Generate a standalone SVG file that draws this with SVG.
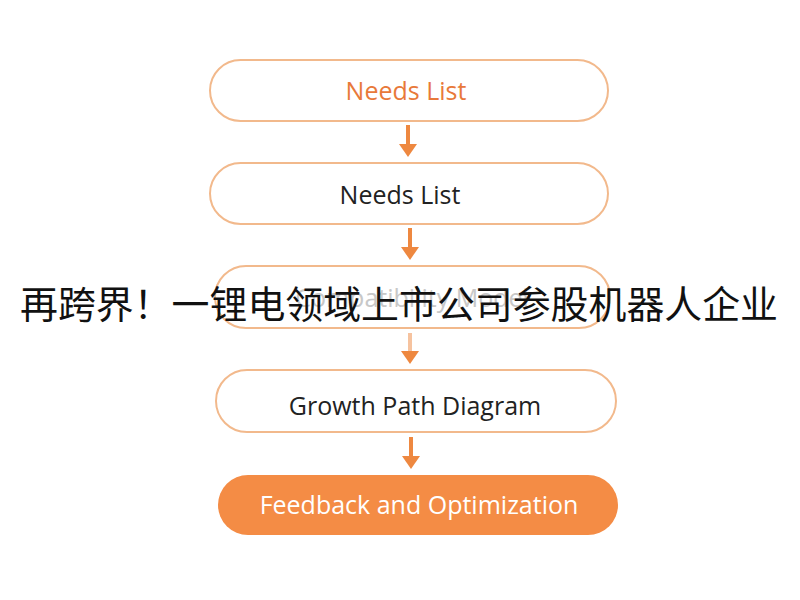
<svg xmlns="http://www.w3.org/2000/svg" width="800" height="600" viewBox="0 0 800 600">
<defs>
<style>
.pill{fill:#fff;stroke:#F2B98C;stroke-width:2}
.lbl{font-family:"Open Sans","Noto Sans",sans-serif;font-size:25px;text-anchor:middle;dominant-baseline:central}
.arr{stroke:#EE8840;stroke-width:4;fill:none}
.head{fill:#EE8840}
</style>
</defs>
<rect width="800" height="600" fill="#fff"/>
<g id="connectors">
<line class="arr" x1="408" y1="125" x2="408" y2="145"/><polygon class="head" points="399,144 417,144 408,157"/>
<line class="arr" x1="410" y1="228" x2="410" y2="248"/><polygon class="head" points="401,247 419,247 410,260"/>
<line class="arr" x1="410" y1="333" x2="410" y2="353" stroke-opacity="0.5"/><polygon class="head" points="401,351 419,351 410,364"/>
<line class="arr" x1="411" y1="437" x2="411" y2="457"/><polygon class="head" points="402,456 420,456 411,469"/>
</g>
<g id="node1"><rect class="pill" x="210" y="60" width="398" height="61" rx="30.5"/><text class="lbl" x="406" y="90" fill="#E8793A">Needs List</text></g>
<g id="node2"><rect class="pill" x="210" y="163" width="398" height="61" rx="30.5"/><text class="lbl" x="400" y="194" fill="#222">Needs List</text></g>
<g id="node3"><rect class="pill" x="215" y="266" width="395" height="62" rx="31" stroke="#F8E3D2"/><text class="lbl" x="412" y="297" fill="#c8c8c8">Compatibility Model</text></g>
<g id="node4"><rect class="pill" x="216" y="370" width="400" height="62" rx="31"/><text class="lbl" x="415" y="405" fill="#222">Growth Path Diagram</text></g>
<g id="node5"><rect x="218" y="475" width="400" height="60" rx="30" fill="#F48C45"/><text class="lbl" x="419" y="504" fill="#fff">Feedback and Optimization</text></g>
<text x="20" y="318" font-family="'Noto Sans CJK SC',sans-serif" font-size="38" textLength="758" lengthAdjust="spacingAndGlyphs" fill="#111">再跨界！一锂电领域上市公司参股机器人企业</text>
</svg>
